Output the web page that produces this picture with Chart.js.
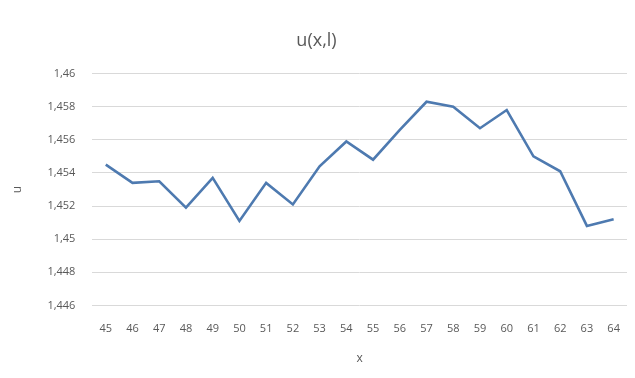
<!DOCTYPE html>
<html>
<head>
<meta charset="utf-8">
<script src="https://cdn.jsdelivr.net/npm/chart.js@4"></script>
<style>
  html, body { margin: 0; padding: 0; background: #ffffff; }
  #wrap { width: 635px; height: 378px; }
</style>
</head>
<body>
<div id="wrap"><canvas id="c" width="635" height="378"></canvas></div>
<script>
// x positions along the profile
const categories = ['45','46','47','48','49','50','51','52','53','54','55','56','57','58','59','60','61','62','63','64'];
// u(x,l) values
const uValues = [1.4545, 1.4534, 1.4535, 1.4519, 1.4537, 1.4511, 1.4534, 1.4521, 1.4544, 1.4559,
                 1.4548, 1.4566, 1.4583, 1.4580, 1.4567, 1.4578, 1.4550, 1.4541, 1.4508, 1.4512];
// value axis ticks
const yTicks = [1.446, 1.448, 1.45, 1.452, 1.454, 1.456, 1.458, 1.46];

const fontFamily = "'Open Sans', 'Liberation Sans', sans-serif";
const textColor = '#595959';

new Chart(document.getElementById('c'), {
  type: 'line',
  data: {
    labels: categories,
    datasets: [{
      data: uValues,
      borderColor: '#4e7ab0',
      borderWidth: 2.6,
      pointRadius: 0,
      tension: 0,
      fill: false
    }]
  },
  options: {
    responsive: false,
    animation: false,
    layout: { padding: { left: 6, right: 8, top: 26, bottom: 8 } },
    plugins: {
      legend: { display: false },
      tooltip: { enabled: false },
      title: {
        display: true,
        text: 'u(x,l)',
        color: textColor,
        font: { family: fontFamily, size: 18, weight: 'normal' },
        padding: { top: 4, bottom: 22 }
      }
    },
    scales: {
      x: {
        offset: true,
        grid: { display: false },
        border: { display: false },
        ticks: { color: textColor, font: { family: fontFamily, size: 11 }, padding: 9, maxRotation: 0 },
        title: { display: true, text: 'x', color: textColor, font: { family: fontFamily, size: 12 }, padding: { top: 7 } }
      },
      y: {
        min: yTicks[0],
        max: yTicks[yTicks.length - 1],
        afterBuildTicks: (axis) => { axis.ticks = yTicks.map(v => ({ value: v })); },
        grid: { color: '#d9d9d9', lineWidth: 1, drawTicks: false },
        border: { display: false },
        ticks: {
          color: textColor,
          font: { family: fontFamily, size: 11 },
          padding: 17,
          callback: (v) => String(parseFloat(Number(v).toFixed(3))).replace('.', ',')
        },
        title: { display: true, text: 'u', color: textColor, font: { family: fontFamily, size: 12 }, padding: { bottom: 6 } }
      }
    }
  }
});
</script>
</body>
</html>
